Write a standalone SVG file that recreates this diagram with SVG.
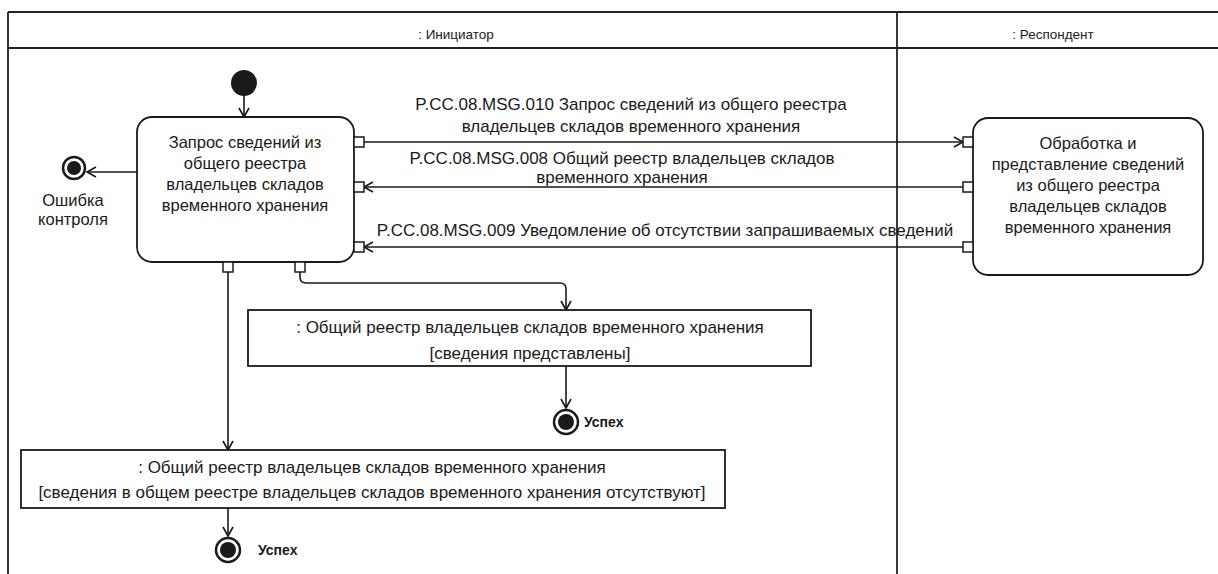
<svg xmlns="http://www.w3.org/2000/svg" width="1218" height="574" viewBox="0 0 1218 574">
<style>
text{font-family:"Liberation Sans",Arial,sans-serif;fill:#1a1a1a}
.t{font-size:17px;text-anchor:middle}
.a{font-size:16.5px;text-anchor:middle}
.h{font-size:13.5px;text-anchor:middle}
.s{font-size:14px;font-weight:bold}
.box{fill:#fff;stroke:#1a1a1a;stroke-width:1.8}
.pin{fill:#fff;stroke:#1a1a1a;stroke-width:1.5}
.ln{fill:none;stroke:#1a1a1a;stroke-width:1.6}
.fr{fill:none;stroke:#222;stroke-width:1.8}
</style>
<defs>
<marker id="a" markerUnits="userSpaceOnUse" markerWidth="14" markerHeight="14" refX="10" refY="6" orient="auto">
<path d="M1,1 L10,6 L1,11" fill="none" stroke="#1a1a1a" stroke-width="1.6"/>
</marker>
</defs>
<rect width="1218" height="574" fill="#fff"/>
<g id="frame">
<line class="fr" x1="8" y1="12" x2="1218" y2="12"/>
<line class="fr" x1="8" y1="48" x2="1218" y2="48"/>
<line class="fr" x1="8" y1="12" x2="8" y2="574"/>
<line class="fr" x1="897" y1="12" x2="897" y2="574"/>
<text class="h" x="456" y="39">: Инициатор</text>
<text class="h" x="1053" y="39">: Респондент</text>
</g>
<g id="connectors">
<line class="ln" x1="244" y1="96" x2="244" y2="117" marker-end="url(#a)"/>
<line class="ln" x1="137" y1="172" x2="87" y2="172" marker-end="url(#a)"/>
<line class="ln" x1="364" y1="142" x2="963" y2="142" marker-end="url(#a)"/>
<line class="ln" x1="963" y1="187" x2="364" y2="187" marker-end="url(#a)"/>
<line class="ln" x1="963" y1="247" x2="364" y2="247" marker-end="url(#a)"/>
<path class="ln" d="M300,272 L300,277 Q300,283 306,283 L560,283 Q566,283 566,289 L566,310" marker-end="url(#a)"/>
<line class="ln" x1="228" y1="272" x2="228" y2="450" marker-end="url(#a)"/>
<line class="ln" x1="566" y1="366" x2="566" y2="408" marker-end="url(#a)"/>
<line class="ln" x1="228" y1="508" x2="228" y2="536" marker-end="url(#a)"/>
<text class="t" x="631" y="110">P.CC.08.MSG.010 Запрос сведений из общего реестра</text>
<text class="t" x="631" y="132">владельцев складов временного хранения</text>
<text class="t" x="622" y="164">P.CC.08.MSG.008 Общий реестр владельцев складов</text>
<text class="t" x="622" y="183">временного хранения</text>
<text class="t" x="665" y="236">P.CC.08.MSG.009 Уведомление об отсутствии запрашиваемых сведений</text>
</g>
<g id="initial">
<circle cx="244" cy="83" r="13" fill="#1a1a1a"/>
</g>
<g id="action-request">
<rect class="box" x="137" y="117" width="217" height="145" rx="15"/>
<text class="a" x="245" y="148">Запрос сведений из</text>
<text class="a" x="245" y="169">общего реестра</text>
<text class="a" x="245" y="190">владельцев складов</text>
<text class="a" x="245" y="211">временного хранения</text>
<rect class="pin" x="354" y="137" width="10" height="10"/>
<rect class="pin" x="354" y="182" width="10" height="10"/>
<rect class="pin" x="354" y="242" width="10" height="10"/>
<rect class="pin" x="223" y="262" width="10" height="10"/>
<rect class="pin" x="295" y="262" width="10" height="10"/>
</g>
<g id="action-process">
<rect class="box" x="973" y="118" width="230" height="157" rx="15"/>
<text class="a" x="1088" y="149">Обработка и</text>
<text class="a" x="1088" y="170">представление сведений</text>
<text class="a" x="1088" y="191">из общего реестра</text>
<text class="a" x="1088" y="212">владельцев складов</text>
<text class="a" x="1088" y="233">временного хранения</text>
<rect class="pin" x="963" y="137" width="10" height="10"/>
<rect class="pin" x="963" y="182" width="10" height="10"/>
<rect class="pin" x="963" y="242" width="10" height="10"/>
</g>
<g id="final-error">
<circle cx="74" cy="168" r="11" fill="#fff" stroke="#1a1a1a" stroke-width="2.5"/>
<circle cx="74" cy="168" r="7" fill="#1a1a1a"/>
<text class="a" x="73" y="206">Ошибка</text>
<text class="a" x="73" y="225">контроля</text>
</g>
<g id="object-provided">
<rect class="box" x="248" y="310" width="563" height="56"/>
<text class="t" x="530" y="333">: Общий реестр владельцев складов временного хранения</text>
<text class="t" x="530" y="359">[сведения представлены]</text>
</g>
<g id="final-success-1">
<circle cx="566" cy="422" r="12" fill="#fff" stroke="#1a1a1a" stroke-width="2.5"/>
<circle cx="566" cy="422" r="8" fill="#1a1a1a"/>
<text class="s" x="584" y="427">Успех</text>
</g>
<g id="object-absent">
<rect class="box" x="21" y="450" width="704" height="58"/>
<text class="t" x="372" y="473">: Общий реестр владельцев складов временного хранения</text>
<text class="t" x="372" y="498">[сведения в общем реестре владельцев складов временного хранения отсутствуют]</text>
</g>
<g id="final-success-2">
<circle cx="228" cy="550" r="12" fill="#fff" stroke="#1a1a1a" stroke-width="2.5"/>
<circle cx="228" cy="550" r="8" fill="#1a1a1a"/>
<text class="s" x="258" y="555">Успех</text>
</g>
</svg>
